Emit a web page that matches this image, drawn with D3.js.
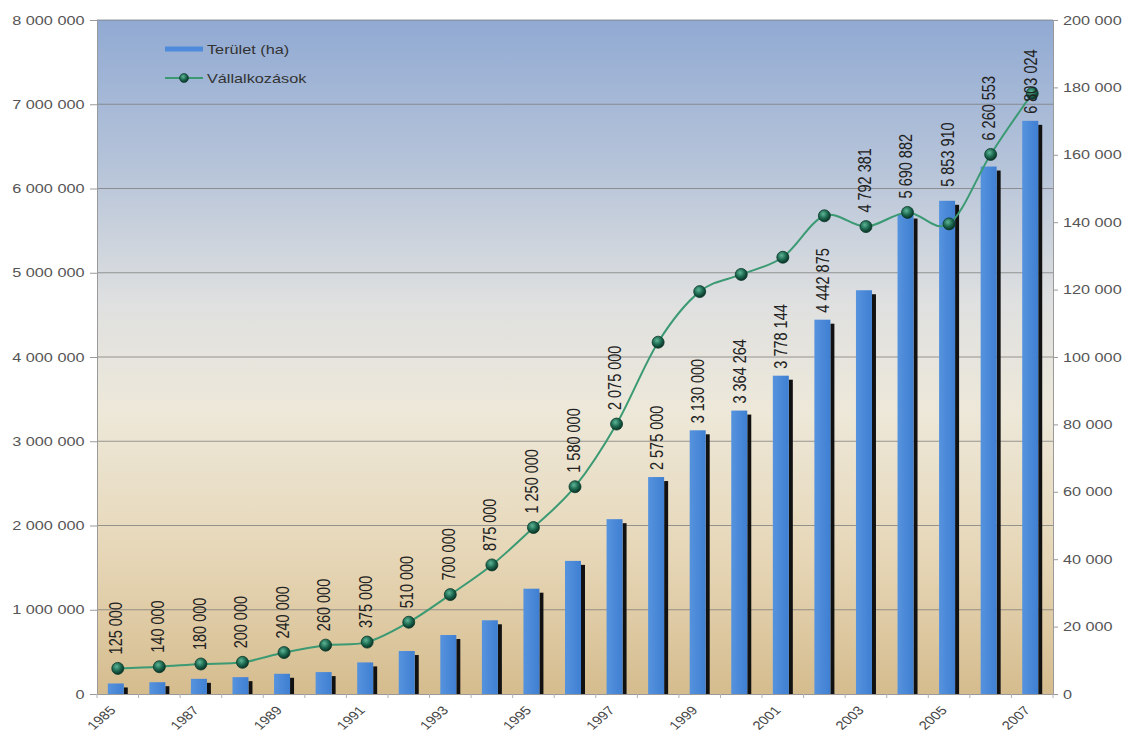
<!DOCTYPE html>
<html>
<head>
<meta charset="utf-8">
<script src="https://cdn.jsdelivr.net/npm/d3@7"></script>
<style>
  body { margin: 0; background: #fff; }
  svg { display: block; }
  text { font-family: "Liberation Sans", Arial, sans-serif; }
</style>
</head>
<body>
<svg id="chart" width="1124" height="738"></svg>
<script>
// Categories (years)
const years = ["1985","1986","1987","1988","1989","1990","1991","1992","1993","1994","1995","1996",
               "1997","1998","1999","2000","2001","2002","2003","2004","2005","2006","2007"];
// Terület (ha) — bars, left axis
const area = [125000, 140000, 180000, 200000, 240000, 260000, 375000, 510000, 700000, 875000,
              1250000, 1580000, 2075000, 2575000, 3130000, 3364264, 3778144, 4442875, 4792381,
              5690882, 5853910, 6260553, 6803024];
// Vállalkozások — line, right axis
const firms = [7600, 8100, 8900, 9400, 12300, 14500, 15400, 21300, 29500, 38300,
               49400, 61500, 80100, 104400, 119400, 124500, 129600, 141900, 138700,
               142900, 139500, 160100, 178200];
// Axis ticks
const areaTicks = [0, 1000000, 2000000, 3000000, 4000000, 5000000, 6000000, 7000000, 8000000];
const firmTicks = [0, 20000, 40000, 60000, 80000, 100000, 120000, 140000, 160000, 180000, 200000];
const yearTickLabels = ["1985","1987","1989","1991","1993","1995","1997","1999","2001","2003","2005","2007"];
const seriesNames = ["Terület (ha)", "Vállalkozások"];

const svg = d3.select("#chart");
const plot = { left: 97, right: 1053, top: 20, bottom: 694 };
const SX = 1.25; // horizontal text stretch

const fmt = v => d3.format(",")(v).replace(/,/g, " ");

const x = d3.scaleBand().domain(years).range([plot.left, plot.right]).padding(0);
const yL = d3.scaleLinear().domain([0, 8000000]).range([plot.bottom, plot.top]);
const yR = d3.scaleLinear().domain([0, 200000]).range([plot.bottom, plot.top]);
const cx = d => x(d) + x.bandwidth() / 2;

const defs = svg.append("defs");
const bg = defs.append("linearGradient").attr("id", "bg").attr("x1", 0).attr("y1", 0).attr("x2", 0).attr("y2", 1);
[["0%", "#91aad3"], ["22%", "#b6c4d9"], ["42%", "#dfe0e0"], ["58%", "#ede8d9"],
 ["80%", "#e6d6b6"], ["100%", "#d5bc8e"]].forEach(([o, c]) => bg.append("stop").attr("offset", o).attr("stop-color", c));

const barGrad = defs.append("linearGradient").attr("id", "bar").attr("x1", 0).attr("y1", 0).attr("x2", 1).attr("y2", 0);
[["0%", "#5693de"], ["100%", "#3f7fd2"]].forEach(([o, c]) => barGrad.append("stop").attr("offset", o).attr("stop-color", c));

const dot = defs.append("radialGradient").attr("id", "dot").attr("cx", "40%").attr("cy", "35%").attr("r", "65%");
[["0%", "#5fb596"], ["55%", "#1d6a51"], ["100%", "#0a3024"]].forEach(([o, c]) => dot.append("stop").attr("offset", o).attr("stop-color", c));

// Plot background
svg.append("rect")
  .attr("x", plot.left).attr("y", plot.top)
  .attr("width", plot.right - plot.left).attr("height", plot.bottom - plot.top)
  .attr("fill", "url(#bg)");

// Horizontal gridlines
svg.append("g").selectAll("line").data(areaTicks.filter(t => t > 0)).join("line")
  .attr("x1", plot.left).attr("x2", plot.right)
  .attr("y1", d => yL(d)).attr("y2", d => yL(d))
  .attr("stroke", "#7a7a7a").attr("stroke-opacity", 0.75).attr("stroke-width", 1);

// Left axis
const gL = svg.append("g").attr("transform", `translate(${plot.left},0)`)
  .call(d3.axisLeft(yL).tickValues(areaTicks).tickFormat(fmt).tickSize(7).tickSizeOuter(0).tickPadding(3));
gL.select(".domain").attr("stroke", "#9a9a9a");
gL.selectAll(".tick line").attr("stroke", "#9a9a9a");
gL.selectAll(".tick text").attr("font-size", 13).attr("fill", "#555")
  .attr("font-family", "'Liberation Sans', Arial, sans-serif")
  .attr("transform", `scale(${SX},1)`);

// Right axis
const gR = svg.append("g").attr("transform", `translate(${plot.right},0)`)
  .call(d3.axisRight(yR).tickValues(firmTicks).tickFormat(fmt).tickSize(5).tickSizeOuter(0).tickPadding(3));
gR.select(".domain").attr("stroke", "#9a9a9a");
gR.selectAll(".tick line").attr("stroke", "#9a9a9a");
gR.selectAll(".tick text").attr("font-size", 13).attr("fill", "#555")
  .attr("font-family", "'Liberation Sans', Arial, sans-serif")
  .attr("transform", `scale(${SX},1)`);

// Bottom axis
const gB = svg.append("g").attr("transform", `translate(0,${plot.bottom})`)
  .call(d3.axisBottom(x).tickValues(yearTickLabels).tickSize(0).tickSizeOuter(0));
gB.select(".domain").attr("stroke", "#9a9a9a");
gB.selectAll(".tick text")
  .attr("font-size", 12).attr("fill", "#444")
  .attr("font-family", "'Liberation Sans', Arial, sans-serif")
  .attr("text-anchor", "end")
  .attr("x", 0).attr("y", 0).attr("dy", "0.35em")
  .attr("transform", `translate(-5,14) scale(${SX},1) rotate(-47)`);
// category boundary ticks
svg.append("g").selectAll("line").data(years.map(d => x(d)).concat([plot.right])).join("line")
  .attr("x1", d => d).attr("x2", d => d)
  .attr("y1", plot.bottom).attr("y2", plot.bottom + 4)
  .attr("stroke", "#b0b0b0");

// Bars with dark side strip
const bw = 16, boff = -2;
const bars = svg.append("g");
bars.selectAll("rect.side").data(years).join("rect").attr("class", "side")
  .attr("x", (d, i) => cx(d) + boff + bw / 2)
  .attr("y", (d, i) => yL(area[i]) + 4)
  .attr("width", 4)
  .attr("height", (d, i) => Math.max(0, plot.bottom - yL(area[i]) - 4))
  .attr("fill", "#111");
bars.selectAll("rect.bar").data(years).join("rect").attr("class", "bar")
  .attr("x", (d, i) => cx(d) + boff - bw / 2)
  .attr("y", (d, i) => yL(area[i]))
  .attr("width", bw)
  .attr("height", (d, i) => plot.bottom - yL(area[i]))
  .attr("fill", "url(#bar)");

// Line (smoothed)
const line = d3.line()
  .x((d, i) => cx(years[i]))
  .y(d => yR(d))
  .curve(d3.curveCardinal.tension(0));
svg.append("path").datum(firms)
  .attr("d", line)
  .attr("fill", "none")
  .attr("stroke", "#3b9a73")
  .attr("stroke-width", 2);
svg.append("g").selectAll("circle").data(firms).join("circle")
  .attr("cx", (d, i) => cx(years[i]))
  .attr("cy", d => yR(d))
  .attr("r", 6)
  .attr("fill", "url(#dot)")
  .attr("stroke", "#0b3a2b").attr("stroke-width", 0.8);

// Value labels for the bars (vertical), moved above the line marker when they would overlap it
const labels = svg.append("g");
years.forEach((yr, i) => {
  const t = labels.append("text")
    .attr("font-size", 14.5).attr("fill", "#222")
    .attr("font-family", "'Liberation Sans', Arial, sans-serif")
    .attr("dy", "0.35em")
    .text(fmt(area[i]));
  const len = t.node().getComputedTextLength();
  const barTop = yL(area[i]);
  const pt = yR(firms[i]);
  let base = barTop - 7;
  if (pt > base - len - 28) {
    const a = Math.min(barTop, pt) - 14;
    if (a - len >= plot.top) base = a;
  }
  t.attr("transform", `translate(${cx(yr) + boff},${base}) scale(1.3,1) rotate(-90)`);
});

// Legend
const lg = svg.append("g");
lg.append("rect").attr("x", 165).attr("y", 46.5).attr("width", 38).attr("height", 5).attr("fill", "#4f8bdb");
lg.append("text").attr("transform", `translate(207,49) scale(${SX},1)`).attr("dy", "0.35em")
  .attr("font-size", 13).attr("fill", "#333").text(seriesNames[0]);
lg.append("line").attr("x1", 165).attr("x2", 203).attr("y1", 78).attr("y2", 78)
  .attr("stroke", "#3b9a73").attr("stroke-width", 2);
lg.append("circle").attr("cx", 184).attr("cy", 78).attr("r", 4.5).attr("fill", "url(#dot)")
  .attr("stroke", "#0b3a2b").attr("stroke-width", 0.6);
lg.append("text").attr("transform", `translate(207,78) scale(${SX},1)`).attr("dy", "0.35em")
  .attr("font-size", 13).attr("fill", "#333").text(seriesNames[1]);
</script>
</body>
</html>
